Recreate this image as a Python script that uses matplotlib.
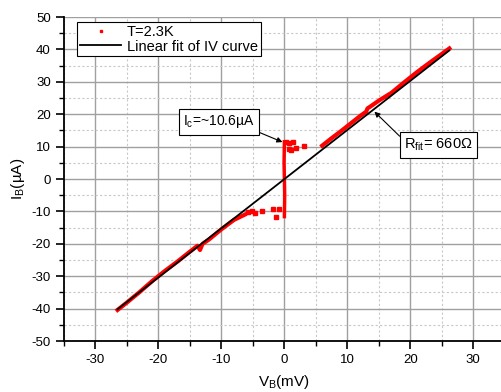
import matplotlib
matplotlib.use('Agg')
import matplotlib.pyplot as plt
from matplotlib.ticker import MultipleLocator

plt.rcParams['font.family'] = ['Liberation Sans', 'DejaVu Sans']
plt.rcParams['axes.unicode_minus'] = False

upper_v = [6.0, 7.5, 9.0, 10.5, 12.0, 13.0, 13.2, 13.6, 15.0, 17.0, 19.0, 21.0, 23.0, 25.0, 26.2]
upper_i = [10.3, 12.6, 14.8, 17.1, 19.4, 20.8, 21.8, 22.3, 24.2, 26.6, 29.8, 32.9, 35.8, 38.6, 40.3]
lower_v = [-26.5, -25.0, -23.0, -21.0, -19.0, -17.0, -15.0, -13.8, -13.4, -13.0, -12.0, -10.0, -8.0, -6.3]
lower_i = [-40.4, -38.1, -34.9, -31.5, -28.4, -25.5, -22.4, -20.6, -21.9, -20.0, -18.7, -15.5, -12.6, -11.0]
switch_v = [0.0, 0.05, 0.0, -0.05, 0.0]
switch_i = [-11.6, -5.0, 0.0, 5.0, 11.5]
scatter_v = [0.3, 0.7, 1.4, 0.7, 1.0, 1.9, 3.1, -0.9, -1.3, -1.8, -3.6, -4.7, -5.2, -5.7]
scatter_i = [11.3, 11.2, 11.5, 9.3, 9.0, 9.5, 10.3, -9.1, -11.6, -9.4, -9.8, -10.4, -10.0, -10.1]

# linear fit endpoints
fit_v = [-26.5, 26.2]
fit_i = [-40.2, 39.7]

fig = plt.figure(figsize=(5.02, 3.92), dpi=100)
ax = fig.add_axes([0.1275, 0.130, 0.878, 0.8266])

red = '#ff0000'
ax.plot(upper_v, upper_i, '-', color=red, lw=3, zorder=3)
ax.plot(lower_v, lower_i, '-', color=red, lw=3, zorder=3)
ax.plot(switch_v, switch_i, '-', color=red, lw=2.5, zorder=3)
ax.plot(scatter_v, scatter_i, 's', color=red, ms=2.2, ls='none', zorder=3, label='T=2.3K')
ax.plot(fit_v, fit_i, '-', color='black', lw=1.3, zorder=4, label='Linear fit of IV curve')

ax.set_xlim(-35, 35)
ax.set_ylim(-50, 50)
ax.xaxis.set_major_locator(MultipleLocator(10))
ax.xaxis.set_minor_locator(MultipleLocator(5))
ax.yaxis.set_major_locator(MultipleLocator(10))
ax.yaxis.set_minor_locator(MultipleLocator(5))

ax.grid(which='major', color='#a0a0a0', lw=1.0, ls='-')
ax.grid(which='minor', color='#c8c8c8', lw=0.8, ls=(0, (2, 2)))
ax.set_axisbelow(True)

for s in ['top', 'right']:
    ax.spines[s].set_visible(False)
for s in ['left', 'bottom']:
    ax.spines[s].set_linewidth(1.3)

ax.tick_params(which='major', direction='out', length=6, width=1.2, labelsize=9.5)
ax.tick_params(which='minor', direction='out', length=3.5, width=1.0)

ax.set_xlabel('V$_\\mathregular{B}$(mV)', fontsize=11, labelpad=5)
ax.set_ylabel('I$_\\mathregular{B}$(\u00b5A)', fontsize=11, labelpad=3)

leg = ax.legend(loc='upper left', bbox_to_anchor=(0.03, 0.985), fontsize=10.5,
                frameon=True, fancybox=False, edgecolor='black', framealpha=1,
                borderpad=0.2, labelspacing=0.05, handlelength=2.8, handletextpad=0.4,
                borderaxespad=0, numpoints=1, markerscale=0.9)
leg.get_frame().set_linewidth(0.8)

box = dict(boxstyle='square,pad=0.3', fc='white', ec='black', lw=0.8)
ax.annotate('I$_\\mathregular{c}$=~10.6\u00b5A', xy=(-0.3, 11.4), xytext=(-10.4, 17.6),
            fontsize=10, ha='center', va='center', bbox=box,
            arrowprops=dict(arrowstyle='-|>', color='black', lw=0.8,
                            mutation_scale=8, shrinkA=0, shrinkB=0,
                            relpos=(1.0, 0.0)))
ax.annotate('R$_\\mathregular{fit}$= 660\u03a9', xy=(14.3, 20.8), xytext=(24.5, 10.5),
            fontsize=10.5, ha='center', va='center', bbox=box,
            arrowprops=dict(arrowstyle='-|>', color='black', lw=0.8,
                            mutation_scale=8, shrinkA=0, shrinkB=0,
                            relpos=(0.0, 0.75)))

fig.savefig('out.png', dpi=100)
